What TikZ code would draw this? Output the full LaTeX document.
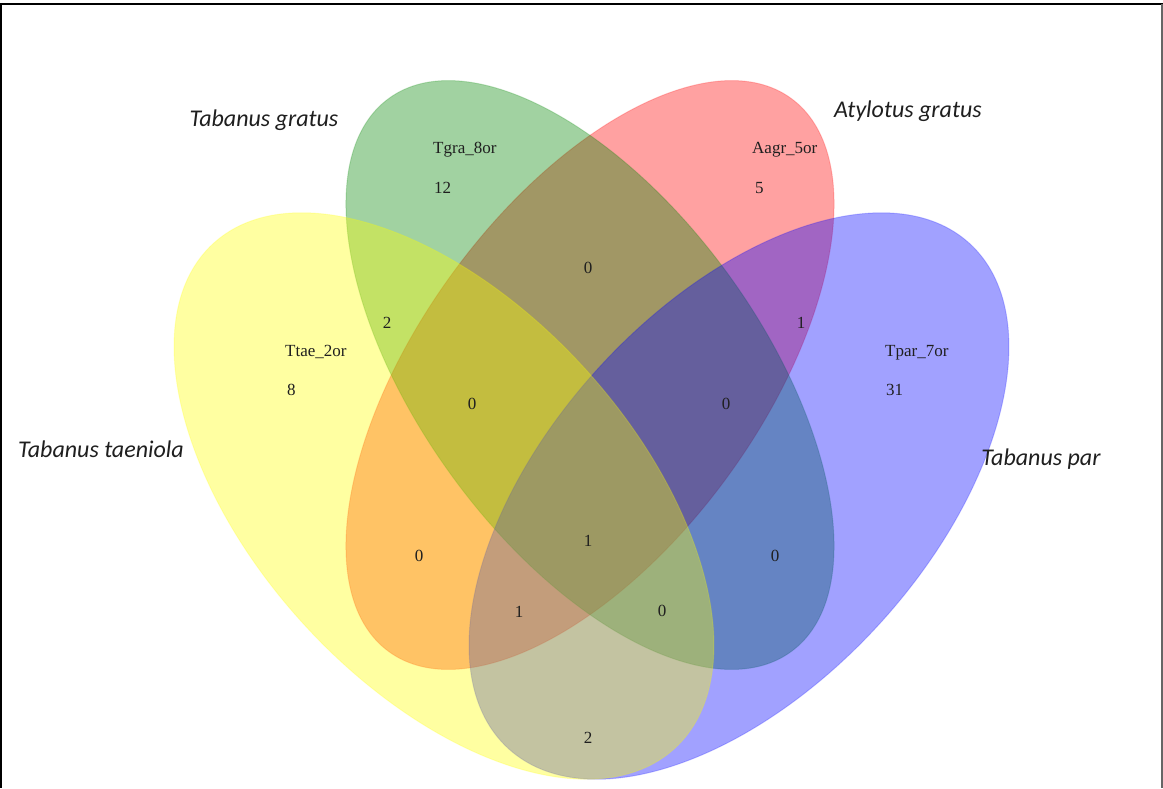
\documentclass[tikz,border=0pt]{standalone}
\usepackage{fontspec}
\setmainfont{Liberation Serif}
\newfontfamily\carlito{Carlito}
\definecolor{vred}{RGB}{255,0,0}
\definecolor{vgreen}{RGB}{0,135,0}
\definecolor{vblue}{RGB}{0,0,255}
\definecolor{vyellow}{RGB}{255,255,0}
\begin{document}
\begin{tikzpicture}[x=1pt,y=-1pt,
  setfill/.style={fill=#1, fill opacity=0.37, draw=#1, draw opacity=0.2, line width=1pt},
  species/.style={font=\carlito\itshape\fontsize{24}{28}\selectfont, text=black!88, anchor=base, inner sep=0pt},
  setname/.style={font=\fontsize{17}{20}\selectfont, text=black!88, anchor=base west, inner sep=0pt},
  count/.style={font=\fontsize{17}{20}\selectfont, text=black!88, anchor=center, inner sep=0pt}]
\useasboundingbox (0,0) rectangle (1163,788);
\fill[white] (0,0) rectangle (1163,788);
% centres
\coordinate (cY) at (444,496);
\coordinate (cG) at (590,375);
\coordinate (cR) at (590,375);
\coordinate (cB) at (739,496);
% ellipses (drawing order: red, green, blue, yellow)
\path[setfill=vred, rotate around={54:(cR)}] (cR) ellipse [x radius=342pt, y radius=171pt];
\path[setfill=vgreen, rotate around={-54:(cG)}] (cG) ellipse [x radius=342pt, y radius=171pt];
\path[setfill=vblue, rotate around={47.6:(cB)}] (cB) ellipse [x radius=342pt, y radius=190pt];
\path[setfill=vyellow, rotate around={-47.6:(cY)}] (cY) ellipse [x radius=342pt, y radius=190pt];
% border
\draw[black, line width=2pt] (0,4) -- (1163,4);
\draw[black, line width=1.5pt] (0.75,4) -- (0.75,788);
\draw[black!60, line width=1.5pt] (1162,4) -- (1162,788);
% species labels
\node[species] (sTg) at (264,126) {Tabanus gratus};
\node[species] (sAg) at (908,117) {Atylotus gratus};
\node[species] (sTt) at (101,457) {Tabanus taeniola};
\node[species] (sTp) at (1041,465) {Tabanus par};
% set names and unique counts
\node[setname] (nTg) at (433,153) {Tgra\_8or};
\node[setname] (kTg) at (434,193) {12};
\node[setname] (nAg) at (752,153) {Aagr\_5or};
\node[setname] (kAg) at (755,193) {5};
\node[setname] (nTt) at (285,356) {Ttae\_2or};
\node[setname] (kTt) at (287,395) {8};
\node[setname] (nTp) at (885,356) {Tpar\_7or};
\node[setname] (kTp) at (886,395) {31};
% intersection counts
\node[count] (gr) at (588,268) {0};
\node[count] (yg) at (387,323) {2};
\node[count] (rb) at (801,323) {1};
\node[count] (ygr) at (472,404) {0};
\node[count] (grb) at (726,404) {0};
\node[count] (yr) at (419,556) {0};
\node[count] (all) at (588,541) {1};
\node[count] (gb) at (775,556) {0};
\node[count] (yrb) at (519,612) {1};
\node[count] (ygb) at (662,611) {0};
\node[count] (yb) at (588,738) {2};
\end{tikzpicture}
\end{document}
